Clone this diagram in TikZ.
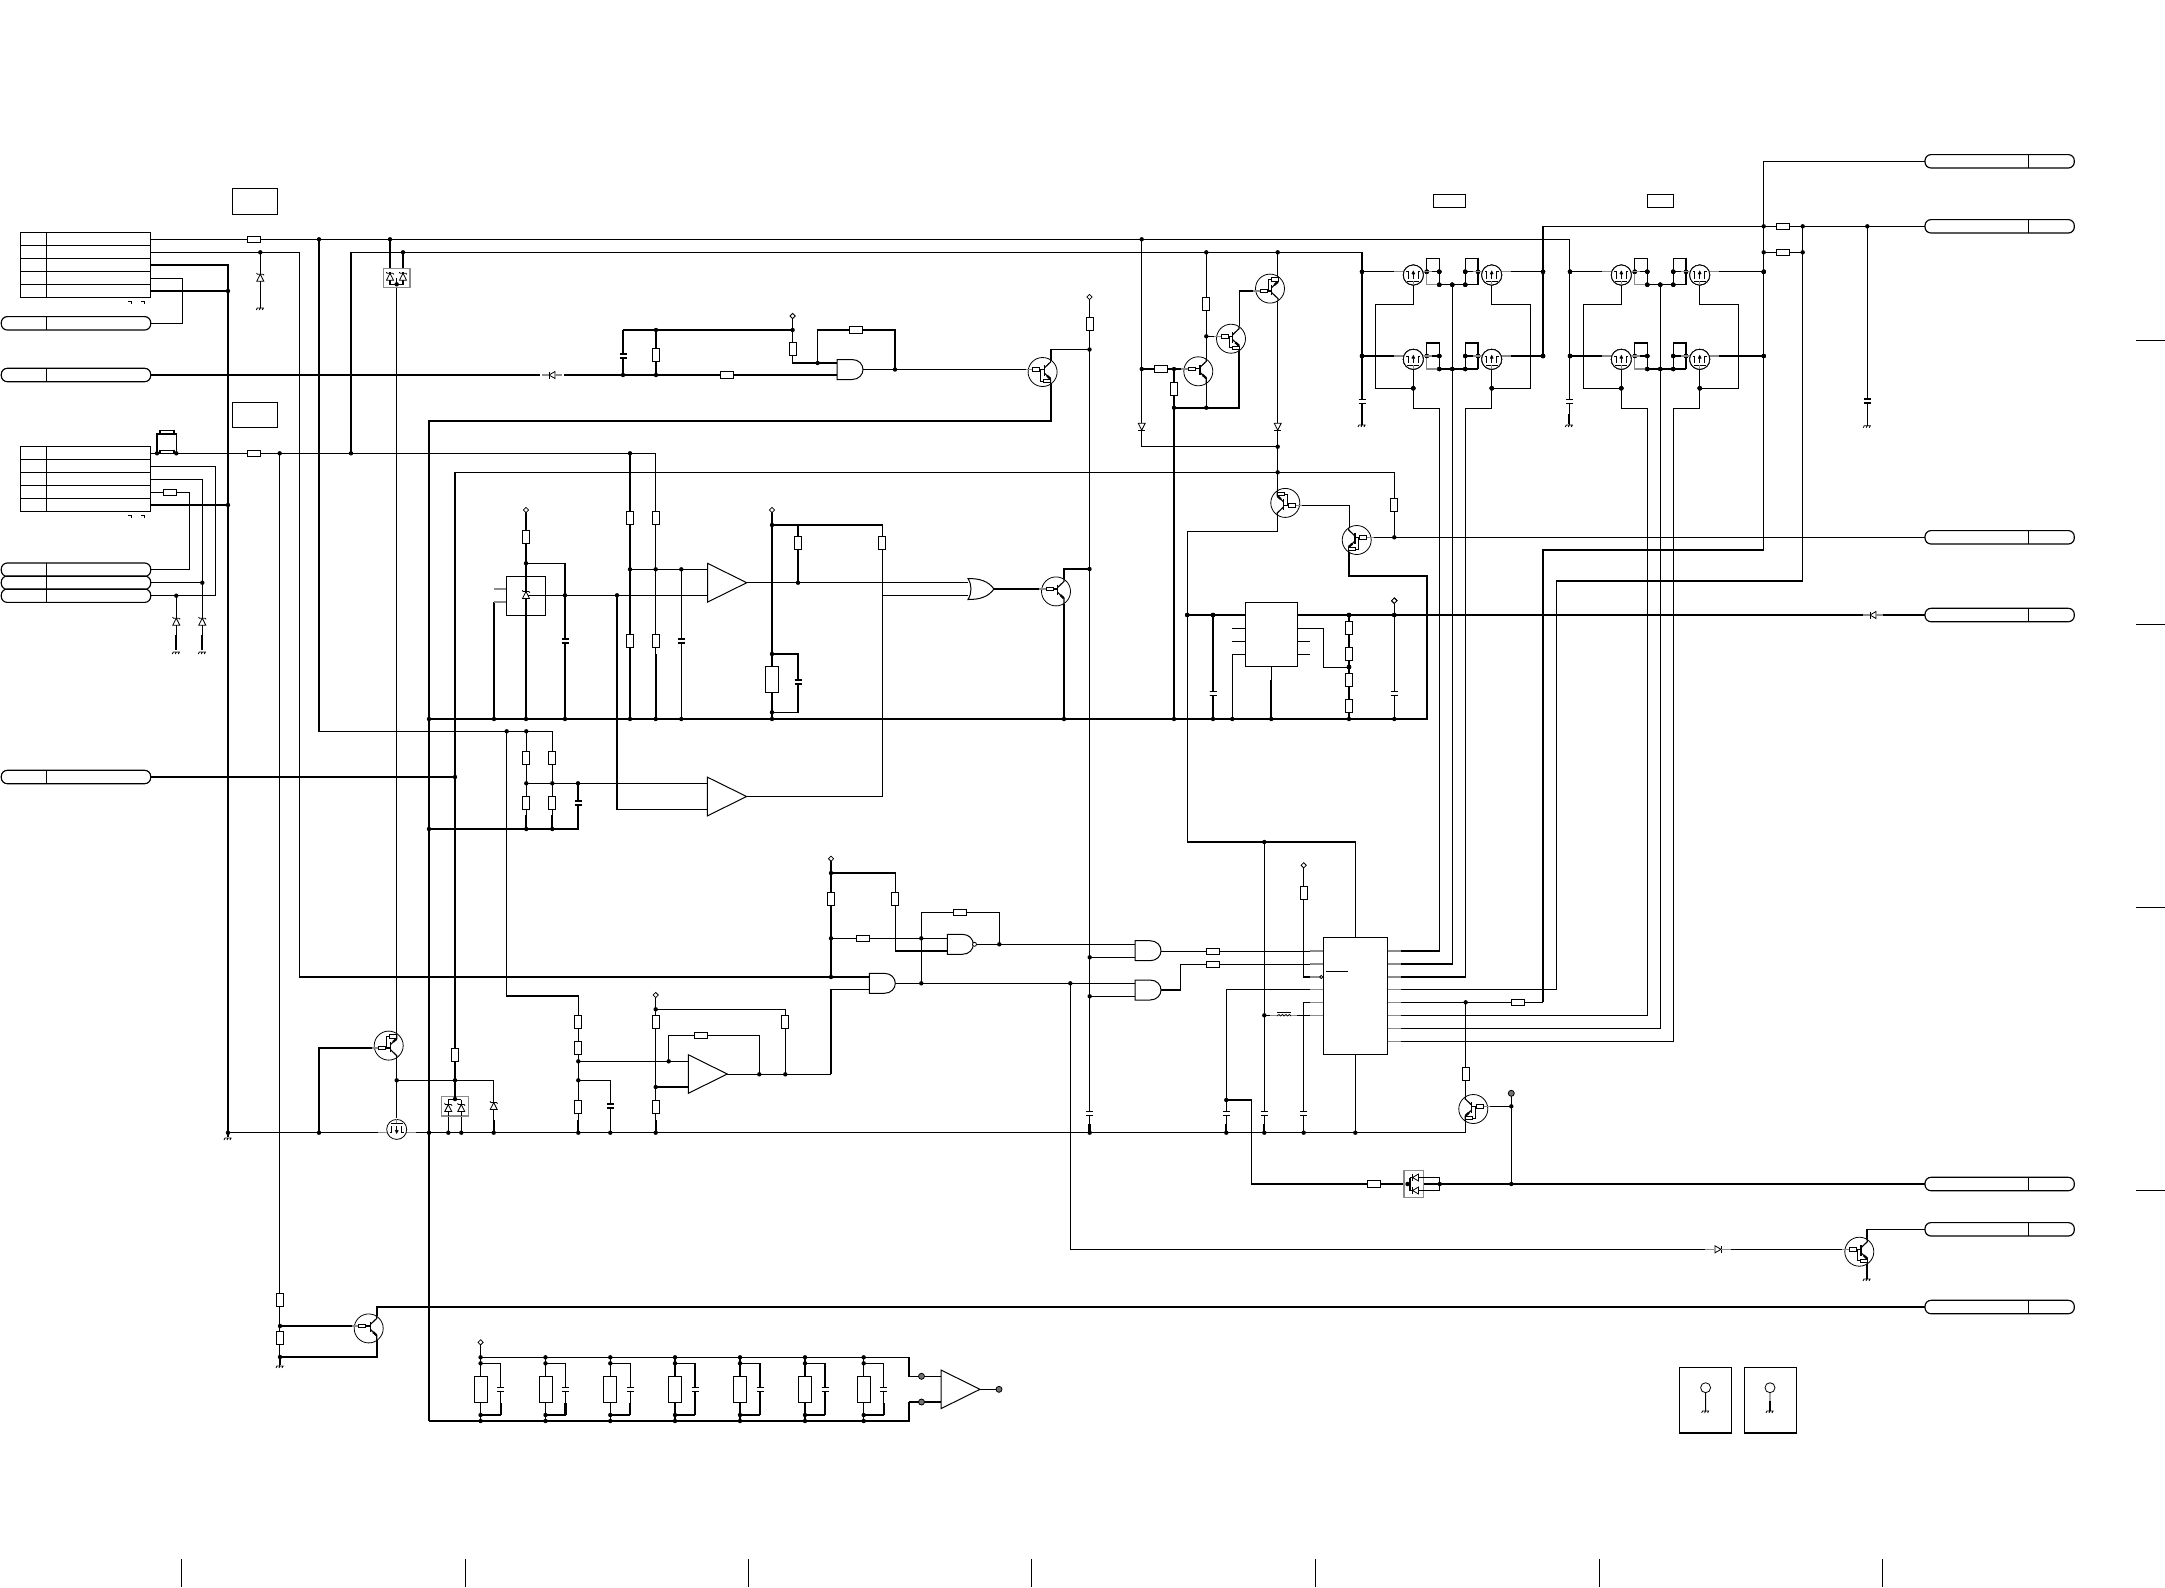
\documentclass[tikz,border=0pt]{standalone}
\tikzset{
 w/.style={line width=.58pt,line cap=butt,line join=miter},
 tk/.style={line width=1.05pt,line cap=butt,line join=miter},
 comp/.style={draw=black,fill=white,line width=.5pt},
 fine/.style={line width=.4pt},
 stub/.style={draw=black!45,line width=.6pt}
}
\newcommand\Jn[1]{\foreach \p in {#1} \fill \p circle[radius=2.2];}
\newcommand\Rv[2]{\draw[comp] (#1-3.5,#2-6.6) rectangle (#1+3.5,#2+6.6);}
\newcommand\Rh[2]{\draw[comp] (#1-6.6,#2-3.2) rectangle (#1+6.6,#2+3.2);}
\newcommand\RB[2]{\draw[comp] (#1-6.5,#2-13) rectangle (#1+6.5,#2+13);}
\newcommand\Cv[2]{\fill[white] (#1-4,#2-1.8) rectangle (#1+4,#2+1.8);\draw[w] (#1-3.5,#2-2)--(#1+3.5,#2-2) (#1-3.5,#2+2)--(#1+3.5,#2+2);}
\newcommand\Zu[2]{\draw[comp,fine] (#1,#2-3.5)--(#1-3.5,#2+3.5)--(#1+3.5,#2+3.5)--cycle;\draw[fine] (#1-3.8,#2-4.6)--(#1-2.8,#2-3.5)--(#1+2.8,#2-3.5)--(#1+3.8,#2-2.4);}
\newcommand\Zdn[2]{\draw[comp,fine] (#1,#2+3.5)--(#1-3.5,#2-3.5)--(#1+3.5,#2-3.5)--cycle;\draw[fine] (#1-3.5,#2+3.5)--(#1+3.5,#2+3.5);}
\newcommand\Dr[2]{\draw[comp,fine] (#1+3,#2)--(#1-3,#2-3.5)--(#1-3,#2+3.5)--cycle;\draw[fine] (#1+3,#2-3.5)--(#1+3,#2+3.5);\draw[stub] (#1-13,#2)--(#1-3,#2) (#1+3,#2)--(#1+13,#2);}
\newcommand\Dl[2]{\draw[comp,fine] (#1-3,#2)--(#1+3,#2-3.5)--(#1+3,#2+3.5)--cycle;\draw[fine] (#1-3,#2-3.5)--(#1-3,#2+3.5);\draw[stub] (#1-10,#2)--(#1-3,#2) (#1+3,#2)--(#1+10,#2);}
\newcommand\Gnd[2]{\draw[fine] (#1-3.5,#2)--(#1+3.5,#2) (#1-3,#2)--(#1-4,#2+2) (#1,#2)--(#1-1,#2+2) (#1+3,#2)--(#1+2,#2+2);}
\newcommand\Dia[2]{\draw[fine,fill=white] (#1,#2-2.6)--(#1+2.6,#2)--(#1,#2+2.6)--(#1-2.6,#2)--cycle;}
\newcommand\Mrk[2]{\draw[fine,fill=black!55] (#1,#2) circle[radius=3];}
\newcommand\QA[4]{\begin{scope}[shift={(#1,#2)},xscale=#3,yscale=#4]
 \draw[comp,fine] (0,0) circle[radius=14.5];
 \draw[w] (8,-12.1)--(8,-10)--(1.7,-4) (1.7,1)--(8,7)--(8,12.1);
 \draw[w] (1.7,-6.8)--(1.7,4);
 \draw[stub] (-17,-2.4)--(-10,-2.4);
 \draw[w] (-3,-2.4)--(1.7,-2.4);
 \draw[comp,fine] (-10,-4.2) rectangle (-3,-.6);
 \draw[line width=1.1pt] (4.4,3.7)--(7.8,6.8);
\end{scope}}
\newcommand\QB[4]{\QA{#1}{#2}{#3}{#4}\begin{scope}[shift={(#1,#2)},xscale=#3,yscale=#4]
 \draw[fine] (-2,-2.4)--(-2,9)--(1,9);
 \draw[comp,fine] (1,7.2) rectangle (8,10.8);
\end{scope}}
\newcommand\FT[3]{\begin{scope}[shift={(#1,#2)},yscale=#3]
 \draw[comp,fine] (0,0) circle[radius=10];
 \draw[fine] (-7,-3.3)--(-5,-3.3)--(-5,3.5) (7,-3.3)--(5,-3.3)--(5,3.5);
 \draw[fine] (0,-3.3)--(0,3.5);
 \draw[fine] (-6,6)--(6,6);
 \draw[line width=.6pt] (-1.3,-.8)--(0,-3.3)--(1.3,-.8);
 \draw[stub] (-19,-3.3)--(-10,-3.3) (10,-3.3)--(19,-3.3) (0,10)--(0,6);
\end{scope}}
\newcommand\Gand[2]{\draw[comp] (#1,#2-10)--(#1+15,#2-10) .. controls (#1+22,#2-10) and (#1+26,#2-5) .. (#1+26,#2) .. controls (#1+26,#2+5) and (#1+22,#2+10) .. (#1+15,#2+10)--(#1,#2+10)--cycle;}
\newcommand\Opa[2]{\draw[comp] (#1,#2-19.4)--(#1+39.3,#2)--(#1,#2+19.4)--cycle;}
\newcommand\Pill[4]{\draw[w,rounded corners=3pt] (#1,#4-6.7) rectangle (#2,#4+6.7);\draw[w] (#3,#4-6.7)--(#3,#4+6.7);}
\newcommand\Tab[1]{\draw[w] (20.3,#1) rectangle (150.7,#1+65);\draw[w] (46.3,#1)--(46.3,#1+65);
 \foreach \k in {13,26,39,52} \draw[w] (20.3,#1+\k)--(150.7,#1+\k);
 \draw[fine] (128,#1+69)--(131.5,#1+69)--(131.5,#1+72) (141,#1+69)--(144.5,#1+69)--(144.5,#1+72);}
\newcommand\Pack[2]{\draw[stub,fill=white] (#1-13.2,#2-9.7) rectangle (#1+13.2,#2+9.7);}
\newcommand\FG[2]{
 \foreach \y in {271.7,356}{
  \draw[w] (1362+#1,\y)--(1394+#1,\y) (1426.7+#1,\y)--(1439.3+#1,\y)--(1439.3+#1,\y+13) (1426.7+#1,\y+13)--(1478+#1,\y+13) (1465.3+#1,\y+13)--(1465.3+#1,\y)--(1478+#1,\y) (1510.7+#1,\y)--(#2,\y);
  \draw[w] (1426.7+#1,\y)--(1426.7+#1,\y-13)--(1439.3+#1,\y-13)--(1439.3+#1,\y) (1465.3+#1,\y)--(1465.3+#1,\y-13)--(1478+#1,\y-13)--(1478+#1,\y+13);
  \draw[stub] (1426.7+#1,\y)--(1426.7+#1,\y+13)--(1439.3+#1,\y+13);
  \Jn{(1362+#1,\y),(1426.7+#1,\y),(1439.3+#1,\y),(1439.3+#1,\y+13),(1452.3+#1,\y+13),(1465.3+#1,\y+13),(1465.3+#1,\y),(1478+#1,\y),(#2,\y)}
  \FT{1413.3+#1}{\y+3.3}{1}\FT{1491.7+#1}{\y+3.3}{1}
 }
 \draw[w] (1413.3+#1,285.3)--(1413.3+#1,304.3)--(1375.3+#1,304.3)--(1375.3+#1,388.3)--(1413.3+#1,388.3);
 \draw[w] (1491.7+#1,285.3)--(1491.7+#1,304.3)--(1530.3+#1,304.3)--(1530.3+#1,388.3)--(1491.7+#1,388.3);
 \draw[w] (1413.3+#1,369.3)--(1413.3+#1,408.3)--(1439.3+#1,408.3);
 \draw[w] (1491.7+#1,369.3)--(1491.7+#1,408.3)--(1465.3+#1,408.3);
 \Jn{(1413.3+#1,388.3),(1491.7+#1,388.3)}
 \draw[w] (1452.3+#1,284.7)--(1452.3+#1,369);
}
\begin{document}
\begin{tikzpicture}[x=0.5pt,y=-0.5pt]
\useasboundingbox (0,0) rectangle (2165,1587);
\fill[white] (0,0) rectangle (2165,1587);
% page ticks
\foreach \y in {340,624,907,1190} \draw[fine] (2136,\y)--(2165,\y);
\foreach \x in {181,465,748,1031,1315,1599,1882} \draw[fine] (\x,1559)--(\x,1587);
% left connectors
\Tab{232.3}\Tab{446.3}
\Pill{1.3}{150.7}{46.3}{323.3}\Pill{1.3}{150.7}{46.3}{375}
\Pill{1.3}{150.7}{46.3}{569.7}\Pill{1.3}{150.7}{46.3}{582.7}\Pill{1.3}{150.7}{46.3}{595.7}
\Pill{1.3}{150.7}{46.3}{777}
\draw[w] (232.3,188.3) rectangle (277.7,214.3) (232.3,402.3) rectangle (277.7,427.7);
% right connectors and boxes
\foreach \y in {161.3,226.3,537.3,615,1184,1229.3,1307} \Pill{1925}{2074.3}{2028.3}{\y}
\draw[w] (1433.3,194.3) rectangle (1465.7,207.3) (1647.3,194.3) rectangle (1673.3,207.3);
\draw[w] (1679.4,1367.5) rectangle (1731.7,1433) (1744.6,1367.5) rectangle (1796.4,1433);
\draw[fine] (1705.6,1387.7) circle[radius=5] (1705.6,1392.7)--(1705.6,1411);
\draw[fine] (1770,1387.7) circle[radius=5] (1770,1392.7)--(1770,1411);
\draw[tk] (1770,1401)--(1770,1411);
\Gnd{1705.6}{1411}\Gnd{1770}{1411}
% long wires
\draw[w] (150.7,239.3)--(1569.3,239.3)--(1569.3,425);
\draw[w] (150.7,252.3)--(299.7,252.3)--(299.7,977)--(869.3,977);
\draw[w] (351,453.3)--(351,252.3)--(1362,252.3)--(1362,425);
\draw[w] (150.7,278.3)--(182.3,278.3)--(182.3,323.3)--(150.7,323.3);
\draw[w] (260.3,252.3)--(260.3,308);
\draw[w] (319,239.3)--(319,731.3)--(552.3,731.3)--(552.3,829);
\draw[w] (150.7,453.3)--(655.7,453.3)--(655.7,719);
\draw[w] (630,453.3)--(630,719);
\draw[w] (279.7,453.3)--(279.7,1367);
\draw[w] (150.7,466.3)--(215.3,466.3)--(215.3,595.7)--(150.7,595.7);
\draw[w] (150.7,479.3)--(202.3,479.3)--(202.3,650);
\draw[w] (202.3,582.7)--(150.7,582.7);
\draw[w] (150.7,492.3)--(189.3,492.3)--(189.3,569.7)--(150.7,569.7);
\draw[w] (176.3,595.7)--(176.3,650);
\draw[w] (157,453.3)--(157,434)--(176.3,434)--(176.3,453.3);
\draw[w] (160,434) rectangle (174,430.5);
\draw[w] (160,453.3)--(160,450.7)--(174,450.7)--(174,453.3);
\draw[w] (390,239.3)--(390,284.3)--(403,284.3)--(403,252.3);
\draw[w] (396.7,284.3)--(396.7,1118);
\draw[w] (455,472.3)--(455,1099.5);
\draw[w] (448.3,1099.5)--(461.3,1099.5) (448.3,1099.5)--(448.3,1132.7) (461.3,1099.5)--(461.3,1132.7);
\draw[w] (396.7,1080.3)--(493.7,1080.3)--(493.7,1132.7);
\draw[w] (455,472.3)--(1394.3,472.3)--(1394.3,537.3);
\draw[w] (150.7,777)--(455,777);
\draw[w] (150.7,375)--(540,375);
\draw[w] (564,375)--(837,375);
\draw[w] (228,1132.7)--(1465.7,1132.7);
% thick nets
\draw[tk] (150.7,265)--(228,265)--(228,1137);
\draw[tk] (150.7,291)--(228,291) (150.7,505)--(228,505);
\draw[tk] (176.3,635)--(176.3,650) (202.3,635)--(202.3,650);
\draw[tk] (1051,360)--(1051,421)--(429,421)--(429,1421);
\draw[tk] (429,719)--(1427,719)--(1427,576)--(1349.3,576)--(1349.3,552);
\draw[tk] (429,829)--(578,829)--(578,818);
\draw[tk] (526.3,815)--(526.3,829) (552.3,815)--(552.3,829);
\draw[w] (429,1421)--(909,1421)--(909,1402);
\draw[tk] (1064,604)--(1064,719);
\draw[tk] (1174,719)--(1174,407.7)--(1239.3,407.7)--(1239.3,351);
\draw[tk] (319,1132.7)--(319,1048)--(372,1048);
\draw[tk] (377,1340)--(377,1357)--(280,1357);
\draw[tk] (280,1357)--(280,1365);
\Gnd{228}{1138}
% upper amplifier
\draw[w] (494,589)--(506.3,589);
\draw[w] (506.3,602)--(494,602);
\draw[tk] (494,602)--(494,719);
\draw[w] (526,510)--(526,628);
\draw[tk] (526,628)--(526,719);
\draw[w] (526,563.3)--(565,563.3)--(565,654);
\draw[tk] (565,654)--(565,719);
\draw[w] (526,595.3)--(707.7,595.3);
\draw[w] (617,595.3)--(617,809.3)--(707.3,809.3);
\draw[w] (630,569.3)--(707.7,569.3);
\draw[w] (681.3,569.3)--(681.3,719);
\draw[tk] (630,654)--(630,719) (655.7,654)--(655.7,719);
\draw[w] (746.7,582.7)--(968,582.7);
\draw[w] (772,510)--(772,719);
\draw[w] (772,525)--(882.3,525)--(882.3,796.3)--(746.7,796.3);
\draw[w] (798,525)--(798,582.7);
\draw[w] (772,654)--(798,654)--(798,712.3)--(772,712.3);
\draw[w] (882.3,595.5)--(968,595.5);
\draw[w] (994,589)--(1040,589);
\draw[w] (1064,579)--(1064,569)--(1089.5,569);
\draw[w] (1089.5,297)--(1089.5,1132.7);
\draw[tk] (1089.5,1124)--(1089.5,1132.7);
\draw[w] (1051,360)--(1051,349.5)--(1089.5,349.5);
% comparator divider
\draw[w] (526.3,731.3)--(526.3,829) (578,783.3)--(578,829);
\draw[w] (526.3,783.3)--(707.3,783.3);
% gate on top
\draw[w] (623,330)--(792.6,330)--(792.6,363)--(837,363);
\draw[w] (792.6,316)--(792.6,330);
\draw[w] (623,330)--(623,375) (656,330)--(656,375);
\draw[w] (817.6,363)--(817.6,330)--(895,330)--(895,369.5);
\draw[w] (863,369.5)--(1028,369.5);
% driver transistors
\draw[w] (1141.7,239.3)--(1141.7,446.7)--(1277.7,446.7);
\draw[w] (1141.7,369)--(1184,369);
\draw[w] (1174,369)--(1174,407.7);
\draw[w] (1206.3,252.3)--(1206.3,407.7);
\draw[w] (1206.3,336.3)--(1216.5,336.3);
\draw[w] (1239.3,326)--(1239.3,291)--(1256,291);
\draw[w] (1277.7,252.3)--(1277.7,531.3)--(1187.3,531.3)--(1187.3,842)--(1355.3,842)--(1355.3,1132.7);
\draw[w] (1300,505.3)--(1349.3,505.3)--(1349.3,528);
\draw[w] (1371,537.3)--(1925,537.3);
\draw[w] (1187.3,615)--(1245.3,615) (1297.7,615)--(1866,615) (1881,615)--(1925,615);
% regulator
\draw[w] (1213,615)--(1213,719);
\draw[tk] (1213,706)--(1213,719);
\draw[w] (1232,628.3)--(1245.3,628.3) (1232,641.3)--(1245.3,641.3);
\draw[w] (1245.3,654.3)--(1232.3,654.3)--(1232.3,719);
\draw[w] (1297.7,628.3)--(1323.3,628.3)--(1323.3,667.3)--(1349,667.3);
\draw[w] (1297.7,641.3)--(1310,641.3) (1297.7,654.3)--(1310,654.3);
\draw[w] (1271.3,666)--(1271.3,680);
\draw[tk] (1271.3,680)--(1271.3,719);
\draw[w] (1349,615)--(1349,719);
\draw[w] (1394.3,600.7)--(1394.3,719);
\draw[comp] (1245.3,602.3) rectangle (1297.7,666.3);
\foreach \y in {628,654,680,706} \Rv{1349}{\y}
\Cv{1213}{693.3}\Cv{1394.3}{693.3}
\Dia{1394.3}{600.7}
\Jn{(1213,615),(1349,615),(1394.3,615),(1349,667),(1187.3,615)}
% FET groups
\FG{0}{1543}\FG{208}{1763.7}
\draw[w] (1543,226.3)--(1543,356);
\draw[w] (1543,226.3)--(1925,226.3);
\draw[w] (1925,161.3)--(1763.7,161.3)--(1763.7,550)--(1543,550)--(1543,1002.3);
\draw[w] (1763.7,252.3)--(1802.7,252.3);
\draw[w] (1802.7,226.3)--(1802.7,581)--(1556.5,581)--(1556.5,989.7);
\draw[w] (1867.3,226.3)--(1867.3,425.7);
\Rh{1783}{226.3}\Rh{1783}{252.3}\Cv{1867.3}{401}
\Gnd{1867.3}{425.7}
\Jn{(1763.7,226.3),(1763.7,252.3),(1802.7,226.3),(1802.7,252.3),(1867.3,226.3)}
\Cv{1362}{401.7}\Cv{1569.3}{401.7}\Gnd{1362}{425}\Gnd{1569.3}{425}
\draw[tk] (1362,414)--(1362,424) (1569.3,414)--(1569.3,424);
% FET outputs down to controller
\draw[w] (1439.3,408.3)--(1439.3,951)--(1401,951);
\draw[w] (1452.3,369)--(1452.3,964)--(1401,964);
\draw[w] (1465.3,408.3)--(1465.3,977)--(1401,977);
\draw[w] (1647.3,408.3)--(1647.3,1015.3)--(1401,1015.3);
\draw[w] (1660.3,369)--(1660.3,1028.3)--(1401,1028.3);
\draw[w] (1673.3,408.3)--(1673.3,1041.3)--(1401,1041.3);
\draw[w] (1401,989.7)--(1556.5,989.7);
\draw[w] (1401,1002.3)--(1543,1002.3);
\Rh{1518}{1002.3}
% lower logic
\draw[w] (831,858.7)--(831,977);
\draw[w] (831,873)--(895.3,873)--(895.3,951)--(947.3,951);
\draw[w] (831,938.3)--(947.3,938.3);
\draw[w] (831,1074.3)--(831,989.3)--(869.3,989.3);
\draw[w] (895.6,983.3)--(1135,983.3);
\draw[w] (921.3,912.3)--(921.3,983.3);
\draw[w] (921.3,912.3)--(999.3,912.3)--(999.3,944.3);
\draw[w] (977,944.3)--(1135,944.3);
\draw[w] (1089.7,957.3)--(1135,957.3) (1089.7,996.3)--(1135,996.3);
\draw[w] (1070.3,983.3)--(1070.3,1249.3)--(1705,1249.3);
\draw[w] (1731,1249.3)--(1845,1249.3);
\draw[w] (1161,951.3)--(1310,951.3);
\draw[w] (1161,990)--(1180.3,990)--(1180.3,964.3)--(1310,964.3);
% lower amplifier
\draw[w] (506.7,731.3)--(506.7,996)--(578.3,996)--(578.3,1132.7);
\draw[w] (578.3,1061.3)--(688.3,1061.3);
\draw[w] (578.3,1080.3)--(610.3,1080.3)--(610.3,1132.7);
\draw[w] (655.7,995)--(655.7,1132.7);
\draw[w] (655.7,1009.3)--(785.3,1009.3)--(785.3,1074.3);
\draw[w] (655.7,1087)--(688.3,1087);
\draw[w] (668.7,1061.3)--(668.7,1035.3)--(759.3,1035.3)--(759.3,1074.3);
\draw[w] (727.3,1074.3)--(831,1074.3);
\draw[tk] (578.3,1120)--(578.3,1132.7) (655.7,1120)--(655.7,1132.7) (493.7,1120)--(493.7,1132.7);
% controller
\draw[w] (1303.7,865.3)--(1303.7,977)--(1310,977);
\draw[w] (1310,989.7)--(1226.3,989.7)--(1226.3,1132.7);
\draw[w] (1310,1002.7)--(1303.7,1002.7)--(1303.7,1132.7);
\draw[w] (1310,1015.3)--(1264.3,1015.3);
\draw[w] (1264.3,842)--(1264.3,1132.7);
\draw[w] (1226.3,1100)--(1251.3,1100)--(1251.3,1184)--(1404,1184);
\draw[w] (1423.6,1184)--(1925,1184);
\draw[w] (1423.6,1177.3)--(1439.7,1177.3)--(1439.7,1190.7)--(1423.6,1190.7);
\draw[w] (1465.7,1002.3)--(1465.7,1132.7);
\draw[w] (1511.3,1093.3)--(1511.3,1184);
\draw[w] (1488,1106.3)--(1511.3,1106.3);
\draw[tk] (1226.3,1124)--(1226.3,1132.7) (1264.3,1124)--(1264.3,1132.7);
\draw[comp] (1323.3,937.3) rectangle (1387.7,1054.7);
\draw[w] (1326,971.3)--(1348,971.3);
\foreach \y in {951,964,977,989.7,1002.7,1015.3} \draw[stub] (1310,\y)--(1323.3,\y);
\foreach \y in {951,964,977,989.7,1002.3,1015.3,1028.3,1041.3} \draw[stub] (1387.7,\y)--(1401,\y);
\draw[fine,fill=white] (1321.3,977) circle[radius=1.6];
\fill[white] (1272,1012) rectangle (1297,1018);
\draw[fine] (1277,1012.5)--(1291,1012.5);
\foreach \k in {0,3.5,7,10.5} \draw[fine] (1277+\k,1016) .. controls (1278+\k,1014) and (1280+\k,1014) .. (1280.5+\k,1016);
\draw[stub] (1270,1015.3)--(1277,1015.3) (1291,1015.3)--(1297,1015.3);
\Rv{1303.7}{892.7}\Dia{1303.7}{865.3}
\Cv{1089.5}{1113.3}\Cv{1226.3}{1113.3}\Cv{1264.3}{1113.3}\Cv{1303.7}{1113.3}
\Rh{1213}{951.3}\Rh{1213}{964.3}
\Rv{1465.7}{1074}
\Jn{(1264.3,1015.3),(1226.3,1100),(1465.7,1002.3),(1511.3,1106.3),(1511.3,1184),(1226.3,1132.7),(1264.3,1132.7),(1303.7,1132.7),(1355.3,1132.7),(1089.7,1132.7),(1264.3,842)}
\Mrk{1511.3}{1093.3}
\QB{1473.3}{1109}{-1}{1}
% connector-side pack
\Rh{1374}{1184}
\draw[stub,fill=white] (1403.9,1170.7) rectangle (1423.6,1197.7);
\draw[w] (1407.5,1184)--(1410,1184) (1410,1177.5)--(1410,1190.5)  (1423.6,1177.3)--(1419,1177.3) (1423.6,1190.7)--(1419,1190.7);
\draw[comp,fine] (1412.5,1177.5)--(1418.5,1174)--(1418.5,1181)--cycle;
\draw[comp,fine] (1412.5,1190.5)--(1418.5,1187)--(1418.5,1194)--cycle;
\draw[fine] (1412.5,1174)--(1412.5,1181) (1412.5,1187)--(1412.5,1194);
\draw[w] (1410,1177.5)--(1412.5,1177.5) (1410,1190.5)--(1412.5,1190.5);
\Jn{(1407.5,1184),(1439.7,1184)}
% output transistor bottom right
\draw[w] (1925,1229.3)--(1867,1229.3)--(1867,1279);
\QB{1859.3}{1251.7}{1}{1}
\Gnd{1867}{1279}
\Dr{1718}{1249.3}
% output at bottom
\draw[w] (377,1316)--(377,1307)--(1925,1307);
\draw[w] (280,1326)--(354,1326);
\QA{368.7}{1328.4}{1}{1}
\draw[w] (377,1340)--(377,1345);
\Rv{280}{1300}\Rv{280}{1338}\Gnd{280}{1366}
\Jn{(280,1326),(280,1357)}
% filter bank
\draw[w] (480.6,1342.3)--(480.6,1421);
\draw[w] (480.6,1357.3)--(909,1357.3)--(909,1376.3)--(941,1376.3);
\draw[tk] (909,1402)--(928,1402);
\draw[w] (928,1402)--(941,1402);
\draw[w] (980,1389.3)--(999,1389.3);
\foreach \x in {480.6,545.5,610.3,675,740,805,863.7}{
 \draw[w] (\x,1357.3)--(\x,1421);
 \draw[w] (\x,1363.3)--(\x+20,1363.3)--(\x+20,1415);
 \draw[tk] (\x,1415)--(\x+20,1415);
 \draw[tk] (\x+20,1403)--(\x+20,1415);
 \RB{\x}{1389.3}\Cv{\x+20}{1389.3}
 \Jn{(\x,1357.3),(\x,1363.3),(\x,1415),(\x,1421)}
}
\Dia{480.6}{1342.3}
\draw[comp] (941,1370)--(980,1389.3)--(941,1408.6)--cycle;
\Mrk{921.5}{1376.3}\Mrk{921.5}{1402}\Mrk{999}{1389.3}
% components on wires: left
\Rh{254}{239.3}\Rh{254}{453.3}\Rh{170}{492.3}
\Zu{260.3}{277.7}\Gnd{260.3}{308}
\Zu{176.3}{621.7}\Zu{202.3}{621.7}\Gnd{176.3}{652}\Gnd{202.3}{652}
\Pack{396.7}{278}
\draw[w] (390,272)--(390,284.3)--(403,284.3)--(403,272);
\Zu{390}{276.7}\Zu{403}{276.7}
\draw[w] (396.7,278)--(396.7,284.3);
\Pack{454.9}{1106.3}
\draw[w] (448.3,1099.5)--(461.3,1099.5) (455,1096)--(455,1099.5) (448.3,1099.5)--(448.3,1104) (461.3,1099.5)--(461.3,1104) (448.3,1112)--(448.3,1116) (461.3,1112)--(461.3,1116);
\Zu{448.3}{1108}\Zu{461.3}{1108}\Zu{493.7}{1106}
\Rv{455}{1055}
\QB{388.7}{1045.6}{1}{-1}
\FT{396.7}{1129.4}{-1}
\Jn{(228,291),(228,505),(228,1132.7),(319,239.3),(390,239.3),(403,252.3),(260.3,252.3),(279.7,453.3),(351,453.3),(157,453.3),(176.3,453.3),(202.3,582.7),(176.3,595.7),(396.7,284.3),(396.7,1080.3),(455,1080.3),(319,1132.7),(429,1132.7),(448.3,1132.7),(461.3,1132.7),(493.7,1132.7),(455,1099),(455,777)}
% upper amplifier parts
\draw[comp] (506.3,576.3) rectangle (545.7,615.7);
\draw[w] (526,576.3)--(526,628);
\draw[w] (526,595.3)--(545.7,595.3);
\draw[stub] (494,589)--(506.3,589) (494,602)--(506.3,602);
\Zu{526}{595}
\Rv{526}{537}\Dia{526}{510}
\Cv{565}{641}\Cv{681.3}{641}\Rv{630}{518}\Rv{630}{641}\Rv{655.7}{518}\Rv{655.7}{641}
\Opa{707.5}{582.7}
\Opa{707.3}{796.5}
\Rv{798}{543}\Rv{882.3}{543}
\draw[comp] (765.7,666.7) rectangle (778.7,692.7);
\Cv{798}{682}
\Dia{772}{510}
\Jn{(526,563.3),(565,595.3),(617,595.3),(630,569.3),(655.7,569.3),(681.3,569.3),(630,453.3),(772,525),(772,654),(772,712.3),(798,582.7),(1089.5,349.5),(1089.5,569)}
\foreach \x in {429,494,526,565,630,655.7,681.3,772,1064,1174,1213,1232.3,1271.3,1349,1394.3} \fill (\x,719) circle[radius=2.2];
% OR gate
\draw[comp] (968,578.5) .. controls (980,578.5) and (988,581) .. (994,589) .. controls (988,597) and (980,599.5) .. (968,599.5) .. controls (972,593) and (972,585) .. (968,578.5)--cycle;
\QA{1056}{591.4}{1}{1}
% first gate
\Gand{837}{369.5}
\Rv{792.6}{349}\Dia{792.6}{316}
\Rv{656}{355}\Cv{623}{356}\Rh{727}{375}\Rh{856}{330}
\Dl{552}{375}
\Jn{(623,375),(656,375),(656,330),(792.6,330),(817.6,363),(895,369.5)}
\QB{1042.6}{372}{1}{1}
\Rv{1089.5}{324}\Dia{1089.5}{297}
% driver parts
\Rv{1206.3}{304}\Rh{1160.8}{369}\Rv{1174}{389}
\Zdn{1141.7}{426.7}\Zdn{1277.7}{426.7}
\QA{1198.3}{371.3}{1}{1}
\QB{1231}{338.7}{1}{1}
\QB{1270}{288.6}{1}{-1}
\QB{1285.3}{502.9}{-1}{-1}
\QB{1356.7}{540}{-1}{1}
\Rv{1394.3}{505}
\Jn{(1141.7,239.3),(1206.3,252.3),(1277.7,252.3),(1141.7,369),(1174,369),(1206.3,336.3),(1174,407.7),(1206.3,407.7),(1277.7,446.7),(1277.7,472.3),(1394.3,537.3)}
\Dl{1873}{615}
% comparator parts
\Rv{526.3}{757.7}\Rv{526.3}{802.7}\Rv{552.3}{757.7}\Rv{552.3}{802.7}\Cv{578}{803}
\Jn{(506.7,731.3),(526.3,731.3),(526.3,783.3),(552.3,783.3),(578,783.3),(526.3,829),(552.3,829),(429,829)}
% lower parts
\Rv{578.3}{1021.7}\Rv{578.3}{1048}\Rv{578.3}{1106.7}\Cv{610.3}{1106}
\Rv{655.7}{1021.7}\Rv{655.7}{1106.7}\Rv{785.3}{1021.7}\Rh{701}{1035.3}
\Dia{655.7}{995}
\draw[comp] (688.3,1054.7)--(727.3,1074)--(688.3,1093.3)--cycle;
\Jn{(578.3,1061.3),(578.3,1080.3),(655.7,1009.3),(655.7,1087),(668.7,1061.3),(759.3,1074.3),(785.3,1074.3),(578.3,1132.7),(610.3,1132.7),(655.7,1132.7)}
\Rv{831}{899}\Rv{895.3}{899}\Rh{862.7}{938.3}\Rh{960}{912.3}\Dia{831}{858.7}
\Gand{869.3}{983.3}
\Gand{947.3}{944.3}
\draw[fine,fill=white] (974.5,944.3) circle[radius=2];
\Gand{1135}{950.7}\Gand{1135}{990}
\Jn{(831,873),(831,938.3),(831,977),(921.3,938.3),(921.3,983.3),(999.3,944.3),(1070.3,983.3),(1089.7,957.3),(1089.7,996.3)}
\end{tikzpicture}
\end{document}
